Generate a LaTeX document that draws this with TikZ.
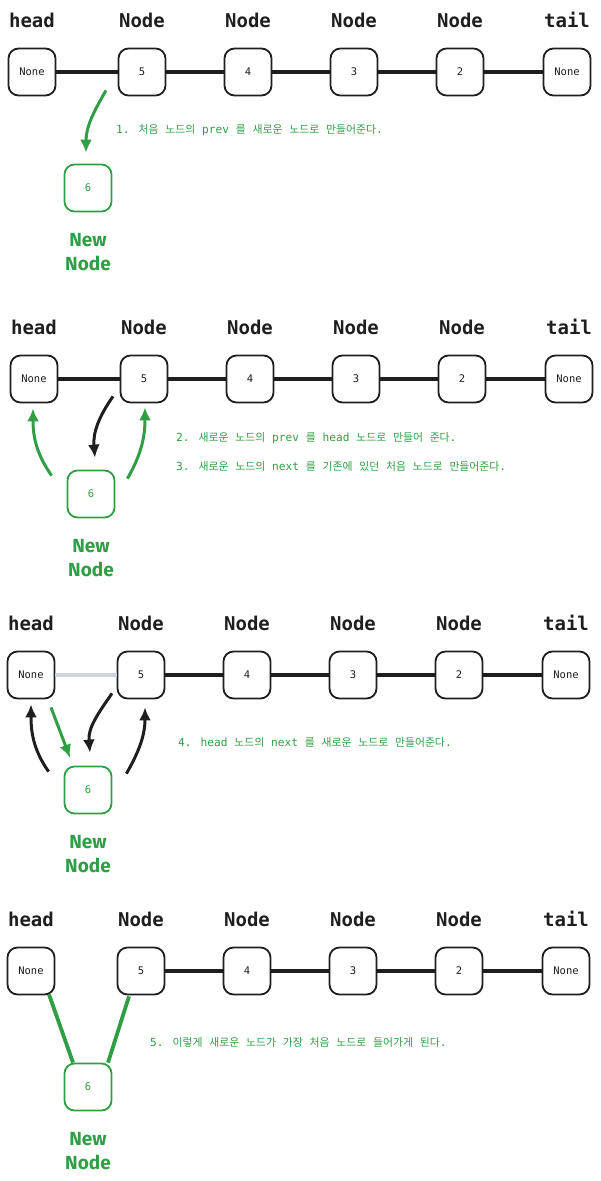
\documentclass[tikz,border=0pt]{standalone}
\usepackage{fontspec}
\setmainfont{DejaVu Sans Mono}
\setsansfont{Fira Sans}
\newfontfamily\krfont[Scale=0.97]{Noto Sans CJK KR}
\newcommand{\kr}[1]{{\krfont #1}}
\usepackage{xcolor}
\definecolor{exgreen}{HTML}{2F9E44}
\definecolor{exblack}{HTML}{1E1E1E}
\definecolor{exgray}{HTML}{CED4DA}
\usetikzlibrary{arrows.meta, math}

\begin{document}
\begin{tikzpicture}[x=1pt, y=1pt,
  box/.style={draw=exblack, text=exblack, line width=1.8pt, rounded corners=10pt,
    minimum size=47pt, inner sep=0pt, font=\fontsize{10.5}{12}\selectfont},
  newbox/.style={box, draw=exgreen, text=exgreen},
  title/.style={text=exblack, inner sep=0pt, font=\fontsize{19}{22}\selectfont\bfseries},
  link/.style={line width=3.4pt, exblack},
  note/.style={anchor=west, inner sep=0pt, text=exgreen, font=\fontsize{11.2}{13}\selectfont},
  newlabel/.style={align=center, inner sep=0pt, text=exgreen,
    font=\sffamily\bfseries\fontsize{19}{24}\selectfont},
  barrow/.style={-{Latex[length=13pt,width=12pt]}, line width=3pt, exblack},
  garrow/.style={barrow, exgreen},
  gline/.style={line width=3.8pt, exgreen}]

\useasboundingbox (0,0) rectangle (600,-1181);

% the list, four times
\foreach \p/\y/\dx in {1/72/1, 2/379/3, 3/675/0, 4/971/0} {
  \foreach \i/\x/\t/\v in {0/31/head/None, 1/141/Node/5, 2/247/Node/4,
      3/353/Node/3, 4/459/Node/2, 5/566/tail/None} {
    \node[title] (p\p t\i) at (\x+\dx,-\y+52) {\t};
    \node[box] (p\p n\i) at (\x+\dx,-\y) {\v};
  }
}
\foreach \p in {1,2,3,4} {
  \foreach \i/\j in {1/2, 2/3, 3/4, 4/5} {
    \draw[link] (p\p n\i) -- (p\p n\j);
  }
}
\draw[link] (p1n0) -- (p1n1);
\draw[link] (p2n0) -- (p2n1);
\draw[line width=3.4pt, exgray] (p3n0) -- (p3n1);

% new node
\foreach \p/\x/\y in {1/88/188, 2/91/494, 3/88/790, 4/88/1087} {
  \node[newbox] (p\p new) at (\x,-\y) {6};
  \node[newlabel] (p\p lab) at (\x,-\y-64) {New\\Node};
}

% step 1
\draw[garrow] ([xshift=-36pt,yshift=6pt]p1n1.south) to[out=-120,in=90]
  ([xshift=-2pt,yshift=11pt]p1new.north);
\node[note] (note1) at (116,-130) {1. \kr{처음} \kr{노드의} prev \kr{를} \kr{새로운} \kr{노드로} \kr{만들어준다}.};

% steps 2 and 3
\draw[barrow] ([xshift=-31pt,yshift=7pt]p2n1.south) to[out=-125,in=95]
  ([xshift=4pt,yshift=12pt]p2new.north);
\draw[garrow] ([xshift=-15pt,yshift=-6pt]p2new.north west) to[out=125,in=-90]
  ([xshift=-1pt,yshift=-5pt]p2n0.south);
\draw[garrow] ([xshift=12pt,yshift=-9pt]p2new.north east) to[out=60,in=-90]
  ([xshift=1pt,yshift=-4pt]p2n1.south);
\node[note] (note2) at (176,-438) {2. \kr{새로운} \kr{노드의} prev \kr{를} head \kr{노드로} \kr{만들어} \kr{준다}.};
\node[note] (note3) at (176,-466) {3. \kr{새로운} \kr{노드의} next \kr{를} \kr{기존에} \kr{있던} \kr{처음} \kr{노드로} \kr{만들어준다}.};

% step 4
\draw[barrow] ([xshift=-15pt,yshift=-6pt]p3new.north west) to[out=125,in=-90]
  ([yshift=-5pt]p3n0.south);
\draw[garrow] ([xshift=20pt,yshift=-8pt]p3n0.south) -- ([xshift=-18pt,yshift=8pt]p3new.north);
\draw[barrow] ([xshift=-29pt,yshift=6pt]p3n1.south) to[out=-125,in=95]
  ([xshift=2pt,yshift=13pt]p3new.north);
\draw[barrow] ([xshift=14pt,yshift=-8pt]p3new.north east) to[out=60,in=-90]
  ([xshift=4pt,yshift=-8pt]p3n1.south);
\node[note] (note4) at (178,-742) {4. head \kr{노드의} next \kr{를} \kr{새로운} \kr{노드로} \kr{만들어준다}.};

% step 5
\draw[gline] ([xshift=18pt,yshift=1pt]p4n0.south) -- ([xshift=-15pt]p4new.north);
\draw[gline] ([xshift=-12pt,yshift=-1pt]p4n1.south) -- ([xshift=20pt]p4new.north);
\node[note] (note5) at (150,-1042) {5. \kr{이렇게} \kr{새로운} \kr{노드가} \kr{가장} \kr{처음} \kr{노드로} \kr{들어가게} \kr{된다}.};
\end{tikzpicture}
\end{document}
